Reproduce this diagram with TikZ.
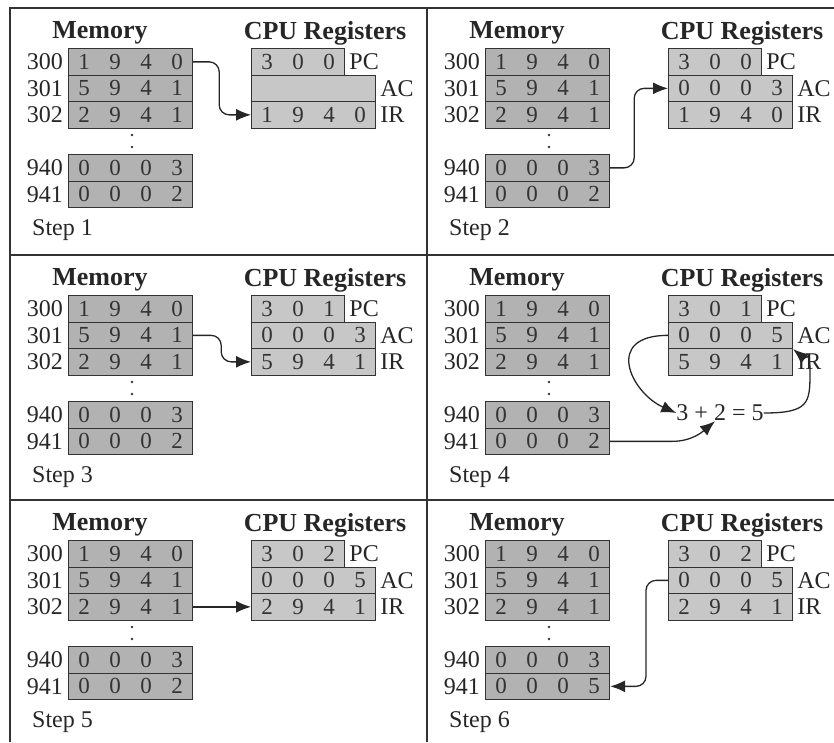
\documentclass[tikz,border=0pt]{standalone}
\usepackage{fontspec}
\setmainfont{Liberation Serif}
\usetikzlibrary{arrows.meta}

% one digit per cell of a word
\newcommand{\cells}[1]{\cellsnext#1\relax}
\newcommand{\cellsnext}[1]{\ifx#1\relax\else\makebox[31pt]{#1}\expandafter\cellsnext\fi}

\tikzset{
    memcell/.style={draw=black!80, line width=1.2pt, fill=black!30, text=black!80,
        minimum width=124pt, minimum height=26.5pt, inner sep=0pt, anchor=north west,
        font=\fontsize{23}{26}\selectfont},
    regcell/.style={memcell, fill=black!22},
    addr/.style={anchor=east, inner sep=0pt, text=black!85, font=\fontsize{24}{26}\selectfont},
    reglabel/.style={addr, anchor=west, inner sep=4pt},
    heading/.style={text=black!85, font=\bfseries\fontsize{26}{28}\selectfont},
    flow/.style={line width=1.3pt, black!85, -{Latex[length=15pt,width=12pt]}},
    frame/.style={line width=2.5pt, black!80},
}

% #1 name, #2 x, #3 y, #4 step, #5 PC, #6 AC, #7 IR, #8 word at 941
\newcommand{\steppanel}[8]{%
    \begin{scope}[shift={(#2,#3)}, name prefix=#1-]
        \node[heading] (memtitle) at (90,25) {Memory};
        \node[heading] (cputitle) at (315,25) {CPU Registers};

        % Memory words
        \node[memcell] (m300) at (58,40) {\cells{1940}};
        \node[memcell] (m301) at (58,66.5) {\cells{5941}};
        \node[memcell] (m302) at (58,93) {\cells{2941}};
        \node[memcell] (m940) at (58,146) {\cells{0003}};
        \node[memcell] (m941) at (58,172.5) {\cells{#8}};
        \node[addr] (a300) at (m300.west) {300\kern5pt};
        \node[addr] (a301) at (m301.west) {301\kern5pt};
        \node[addr] (a302) at (m302.west) {302\kern5pt};
        \node[addr] (a940) at (m940.west) {940\kern5pt};
        \node[addr] (a941) at (m941.west) {941\kern5pt};
        \fill[black!80] (122,127) circle[radius=1.3pt];
        \fill[black!80] (122,139) circle[radius=1.3pt];

        % Registers
        \node[regcell, minimum width=93pt] (pc) at (241,40) {\cells{#5}};
        \node[regcell] (ac) at (241,66.5) {\cells{#6}};
        \node[regcell] (ir) at (241,93) {\cells{#7}};
        \node[reglabel] (pcname) at (pc.east) {PC};
        \node[reglabel] (acname) at (ac.east) {AC};
        \node[reglabel] (irname) at (ir.east) {IR};

        \node[addr, anchor=west] (steplabel) at (22,222) {Step #4};
    \end{scope}
}

\begin{document}
\begin{tikzpicture}[x=1pt, y=-1pt]
    \useasboundingbox (0,0) rectangle (834,742);

    % Frame
    \draw[frame] (10,742) -- (10,8) -- (834,8);
    \draw[frame] (427,8) -- (427,742);
    \draw[frame] (10,255) -- (834,255);
    \draw[frame] (10,500) -- (834,500);

    % The six steps
    \steppanel{s1}{10}{8}{1}{300}{}{1940}{0002}
    \steppanel{s2}{427}{8}{2}{300}{0003}{1940}{0002}
    \steppanel{s3}{10}{255}{3}{301}{0003}{5941}{0002}
    \steppanel{s4}{427}{255}{4}{301}{0005}{5941}{0002}
    \steppanel{s5}{10}{500}{5}{302}{0005}{2941}{0002}
    \steppanel{s6}{427}{500}{6}{302}{0005}{2941}{0005}

    % Step 1
    \draw[flow, rounded corners=10pt] (s1-m300.east) -- ++(26,0) |- (s1-ir.west);

    % Step 2
    \draw[flow, rounded corners=10pt] (s2-m940.east) -- ++(24,0) |- (s2-ac.west);

    % Step 3
    \draw[flow, rounded corners=10pt] (s3-m301.east) -- ++(28,0) |- (s3-ir.west);

    % Step 4
    \node[addr, anchor=center] (s4-eq) at (720,413) {3 + 2 = 5};
    \draw[flow] (s4-ac.west) .. controls +(-65,0) and +(-45,-20) .. (s4-eq.west);
    \draw[flow] (s4-m941.east) -- ++(62,0) .. controls +(20,0) and +(-12,10) .. ([xshift=-5pt]s4-eq.south);
    \draw[flow] (s4-eq.east) .. controls +(45,0) and +(0,30) .. (810,373) .. controls +(0,-25) and +(12,10) .. (s4-ac.south east);

    % Step 5
    \draw[flow] (s5-m302.east) -- (s5-ir.west);

    % Step 6
    \draw[flow, rounded corners=10pt] (s6-ac.west) -- ++(-22,0) |- (s6-m941.east);

\end{tikzpicture}
\end{document}
